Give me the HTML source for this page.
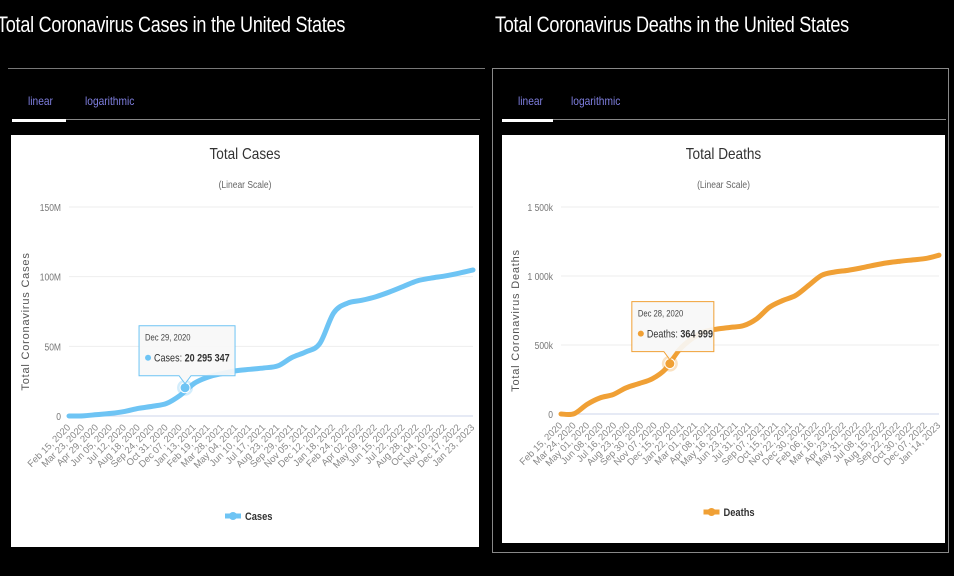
<!DOCTYPE html>
<html><head><meta charset="utf-8"><style>
body{margin:0;width:954px;height:576px;background:#000;overflow:hidden;position:relative;font-family:"Liberation Sans",sans-serif}
.abs{position:absolute}
.h{color:#fff;font-size:22px;transform:scaleX(0.82);transform-origin:left top;white-space:nowrap;letter-spacing:-0.3px}
.tab{color:#7f7fe0;font-size:12px;transform:scaleX(0.85);transform-origin:left top}
svg text{font-family:"Liberation Sans",sans-serif}
</style></head><body>
<div class="abs h" style="left:-3px;top:12px">Total Coronavirus Cases in the United States</div>
<div class="abs h" style="left:495px;top:12px">Total Coronavirus Deaths in the United States</div>
<div class="abs" style="left:8px;top:68px;width:477px;height:1px;background:#777"></div>
<div class="abs" style="left:492px;top:68px;width:457px;height:485px;border:1px solid #888;box-sizing:border-box"></div>
<div class="abs tab" style="left:28px;top:94px">linear</div>
<div class="abs tab" style="left:85px;top:94px">logarithmic</div>
<div class="abs" style="left:12px;top:119px;width:54px;height:3px;background:#fff"></div>
<div class="abs" style="left:66px;top:119px;width:414px;height:1px;background:#888"></div>
<div class="abs tab" style="left:518px;top:94px">linear</div>
<div class="abs tab" style="left:571px;top:94px">logarithmic</div>
<div class="abs" style="left:502px;top:119px;width:51px;height:3px;background:#fff"></div>
<div class="abs" style="left:553px;top:119px;width:393px;height:1px;background:#888"></div>

<svg class="abs" id="c1" style="left:11px;top:135px" width="468" height="412"></svg>
<svg class="abs" id="c2" style="left:502px;top:135px" width="443" height="408"></svg>

<script>
const casesLabels=["Feb 15, 2020","Mar 23, 2020","Apr 29, 2020","Jun 05, 2020","Jul 12, 2020","Aug 18, 2020","Sep 24, 2020","Oct 31, 2020","Dec 07, 2020","Jan 13, 2021","Feb 19, 2021","Mar 28, 2021","May 04, 2021","Jun 10, 2021","Jul 17, 2021","Aug 23, 2021","Sep 29, 2021","Nov 05, 2021","Dec 12, 2021","Jan 18, 2022","Feb 24, 2022","Apr 02, 2022","May 09, 2022","Jun 15, 2022","Jul 22, 2022","Aug 28, 2022","Oct 04, 2022","Nov 10, 2022","Dec 17, 2022","Jan 23, 2023"];
const casesValues=[0,0.1,1.0,1.9,3.3,5.5,7.0,9.0,15,23.5,28,30.5,32.5,33.5,34.5,36,42,46,52,74,81,83,85.5,89,93,97,99,100.5,102.5,104.8];
const casesTicks=[0,50,100,150];
const casesTickLabels=["0","50M","100M","150M"];
const casesTip={index:8.33,date:"Dec 29, 2020",value:20.3,text:"20 295 347"};

const deathsLabels=["Feb 15, 2020","Mar 24, 2020","May 01, 2020","Jun 08, 2020","Jul 16, 2020","Aug 23, 2020","Sep 30, 2020","Nov 07, 2020","Dec 15, 2020","Jan 22, 2021","Mar 01, 2021","Apr 08, 2021","May 16, 2021","Jun 23, 2021","Jul 31, 2021","Sep 07, 2021","Oct 15, 2021","Nov 22, 2021","Dec 30, 2021","Feb 06, 2022","Mar 16, 2022","Apr 23, 2022","May 31, 2022","Jul 08, 2022","Aug 15, 2022","Sep 22, 2022","Oct 30, 2022","Dec 07, 2022","Jan 14, 2023"];
const deathsValues=[0,2,70,117,141,190,221,255,324,457,543,596,616,628,640,689,774,822,859,932,1005,1029,1041,1058,1078,1095,1107,1117,1127,1151];
const deathsTicks=[0,500,1000,1500];
const deathsTickLabels=["0","500k","1 000k","1 500k"];
const deathsTip={index:8.35,date:"Dec 28, 2020",value:365,text:"364 999"};

const NS="http://www.w3.org/2000/svg";
function mk(svg,tag,attrs,txt){const e=document.createElementNS(NS,tag);for(const k in attrs)e.setAttribute(k,attrs[k]);if(txt!==undefined)e.textContent=txt;svg.appendChild(e);return e;}

function draw(id,o){
  const svg=document.getElementById(id);
  const W=+svg.getAttribute('width'),H=+svg.getAttribute('height');
  const bg=mk(svg,'rect',{x:0,y:0,width:W,height:H,fill:'#fff'});
  
  const n=o.values.length;
  const xs=i=>o.x0+(o.x1-o.x0)*i/(n-1);
  const ys=v=>o.y0-(o.y0-o.y1)*v/o.ticks[o.ticks.length-1];
  const cx=W/2;
  const t=mk(svg,'text',{x:cx,y:24,'text-anchor':'middle','font-size':16,fill:'#333',transform:`translate(${cx} 0) scale(0.85 1) translate(${-cx} 0)`},o.title);
  
  const st=mk(svg,'text',{x:cx,y:53,'text-anchor':'middle','font-size':10,fill:'#666',transform:`translate(${cx} 0) scale(0.85 1) translate(${-cx} 0)`},'(Linear Scale)');
  
  o.ticks.forEach((tv,k)=>{
    const y=ys(tv);
    const g=mk(svg,'line',{x1:o.x0,x2:o.x1,y1:y,y2:y,stroke:k==0?'#ccd6eb':'#eee','stroke-width':1});
    
    const l=mk(svg,'text',{x:o.x0-8,y:y+4,'text-anchor':'end','font-size':10,fill:'#777',transform:`translate(${o.x0-8} 0) scale(0.85 1) translate(${-(o.x0-8)} 0)`},o.tickLabels[k]);
    
  });
  const yc=(o.y0+o.y1)/2+10;
  const at=mk(svg,'text',{x:o.atx,y:yc,'text-anchor':'middle','font-size':11,fill:'#555','letter-spacing':'0.8',transform:`rotate(-90 ${o.atx} ${yc})`},o.axisTitle);
  
  o.labels.forEach((s,i)=>{
    const x=xs(i*(n-1)/(o.labels.length-1))+2,y=o.y0+12;
    const l=mk(svg,'text',{x:x,y:y,'text-anchor':'end','font-size':9.5,fill:'#888',transform:`rotate(-45 ${x} ${y})`},s);
    
  });
  const P=o.values.map((v,i)=>[xs(i),ys(v)]);
  let d=`M${P[0][0]},${P[0][1]}`;
  for(let i=0;i<P.length-1;i++){
    const p0=P[Math.max(0,i-1)],p1=P[i],p2=P[i+1],p3=P[Math.min(P.length-1,i+2)];
    d+=` C${p1[0]+(p2[0]-p0[0])/6},${p1[1]+(p2[1]-p0[1])/6} ${p2[0]-(p3[0]-p1[0])/6},${p2[1]-(p3[1]-p1[1])/6} ${p2[0]},${p2[1]}`;
  }
  const ln=mk(svg,'path',{d:d,fill:'none',stroke:o.color,'stroke-width':5,'stroke-linejoin':'round','stroke-linecap':'round'});
  
  const tx=xs(o.tip.index),ty=ys(o.tip.value);
  const halo=mk(svg,'circle',{cx:tx,cy:ty,r:8,fill:o.color,opacity:0.3});
  
  const pt=mk(svg,'circle',{cx:tx,cy:ty,r:5,fill:o.color,stroke:'#fff','stroke-width':1});
  
  const bw=o.tipW,bh=50,bx=tx-o.tipOff,by=ty-bh-12;
  const tb=mk(svg,'path',{d:`M${bx},${by} h${bw} v${bh} H${tx+6} l-6,8 l-6,-8 H${bx} Z`,fill:'rgba(247,247,247,0.92)',stroke:o.color,'stroke-width':1});
  
  const td=mk(svg,'text',{x:bx+6,y:by+15,'font-size':9,fill:'#444',transform:`translate(${bx+6} 0) scale(0.85 1) translate(${-(bx+6)} 0)`},o.tip.date);
  
  const dot=mk(svg,'circle',{cx:bx+9,cy:by+32,r:3,fill:o.color});
  
  const tv=mk(svg,'text',{x:bx+15,y:by+36,'font-size':11,fill:'#333',transform:`translate(${bx+15} 0) scale(0.82 1) translate(${-(bx+15)} 0)`});
  
  const s1=document.createElementNS(NS,'tspan');s1.textContent=o.series+': ';tv.appendChild(s1);
  const s2=document.createElementNS(NS,'tspan');s2.setAttribute('font-weight','bold');s2.textContent=o.tip.text;tv.appendChild(s2);
  const lx=cx-12,ly=o.legY;
  const lg=mk(svg,'line',{x1:lx-8,x2:lx+8,y1:ly,y2:ly,stroke:o.color,'stroke-width':5});
  
  const lc=mk(svg,'circle',{cx:lx,cy:ly,r:4,fill:o.color});
  
  const lt=mk(svg,'text',{x:lx+12,y:ly+4,'font-size':11,'font-weight':'bold',fill:'#333',transform:`translate(${lx+12} 0) scale(0.85 1) translate(${-(lx+12)} 0)`},o.series);
  
}
draw('c1',{x0:58,x1:462,y0:281,y1:72,values:casesValues,labels:casesLabels,ticks:casesTicks,tickLabels:casesTickLabels,tip:casesTip,color:'#6ec4f4',title:'Total Cases',axisTitle:'Total Coronavirus Cases',series:'Cases',atx:18,legY:381,tipW:96,tipOff:46});
draw('c2',{x0:59,x1:437,y0:279,y1:72,values:deathsValues,labels:deathsLabels,ticks:deathsTicks,tickLabels:deathsTickLabels,tip:deathsTip,color:'#f0a035',title:'Total Deaths',axisTitle:'Total Coronavirus Deaths',series:'Deaths',atx:17,legY:377,tipW:82,tipOff:38});
</script>
</body></html>
